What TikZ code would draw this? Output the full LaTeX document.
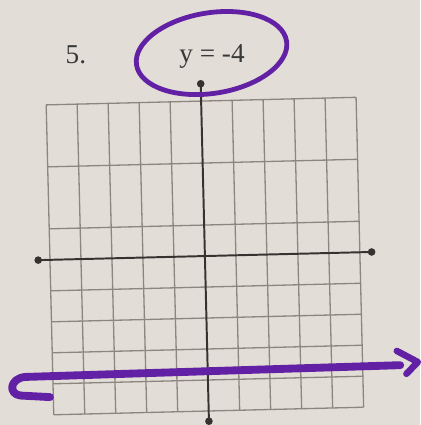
\documentclass[tikz,border=0pt]{standalone}
\usepackage{fontspec}
\setmainfont{Liberation Serif}
\usetikzlibrary{arrows.meta, positioning, calc}
\definecolor{paper}{RGB}{226,222,215}
\definecolor{ink}{RGB}{98,32,165}
\definecolor{gridgray}{RGB}{140,134,128}
\definecolor{axisgray}{RGB}{55,50,48}

\begin{document}
\begin{tikzpicture}[x=0.5cm, y=0.5cm,
  gridline/.style={gridgray, line width=0.6pt},
  axisline/.style={axisgray, line width=0.9pt,
                   {Circle[length=1.2mm]}-{Circle[length=1.2mm]}},
  probtext/.style={font=\fontsize{12.5}{14}\selectfont, text=black!78, inner sep=0pt},
  circled/.style={ink, line width=2.2pt},
  marker/.style={ink, line width=3.6pt, line cap=round, line join=round},
]
  % ── page ──
  \fill[paper] (-6.61,-5.45) rectangle (6.94,8.26);
  \useasboundingbox (-6.61,-5.45) rectangle (6.94,8.26);

  % ── grid and axes ──
  \begin{scope}[rotate=1.4]
    \foreach \x in {-5,...,-1,1,2,...,5}
      \draw[gridline] (\x,-5) -- (\x,5);
    \foreach \y in {-5,-4,-3,-2,-1,1,3,5}
      \draw[gridline] (-5,\y) -- (5,\y);
    \coordinate (xl) at (-5.5,0);
    \coordinate (xr) at (5.5,0);
    \coordinate (yb) at (0,-5.45);
    \coordinate (yt) at (0,5.68);
    \draw[axisline] (xl) -- (xr);
    \draw[axisline] (yb) -- (yt);
  \end{scope}

  % ── problem ──
  \node[probtext] (num) at (-4.16,6.48) {5.};
  \node[probtext] (eq) at (0.23,6.45) {y = -4};
  \draw[circled, rotate around={9:($(eq.center)+(0,0.1)$)}]
    ($(eq.center)+(0,0.1)$) ellipse [x radius=2.45, y radius=1.3];

  % ── answer line ──
  \draw[marker] (-5.0,-4.55) -- (-5.95,-4.5)
    .. controls (-6.35,-4.45) and (-6.3,-3.95) .. (-5.8,-3.9) -- (6.3,-3.52);
  \draw[marker, line width=3pt] (6.19,-3.06) -- (6.87,-3.42) -- (6.5,-3.8);
\end{tikzpicture}
\end{document}
